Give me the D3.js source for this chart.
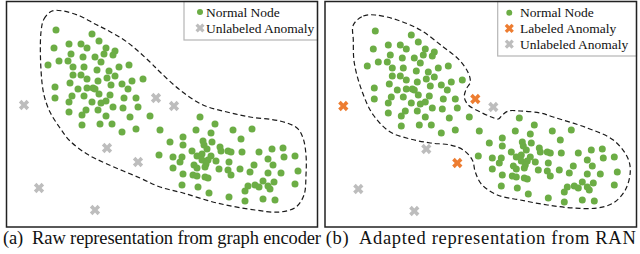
<!DOCTYPE html>
<html>
<head>
<meta charset="utf-8">
<script src="https://cdnjs.cloudflare.com/ajax/libs/d3/7.8.5/d3.min.js"></script>
<style>
body { margin: 0; background: #fff; }
svg { display: block; font-family: "Liberation Serif", "DejaVu Serif", serif; }
</style>
</head>
<body>
<svg id="chart" width="640" height="254"></svg>
<script>
// node embeddings (2-d), same for both panels
var normalNodes = [
	[56,30],[92,34],[99,41],[69,44],[81,44],[87,48],[54,48],[106,48],[115,51],[113,55],
	[104,54],[71,54],[83,57],[95,57],[59,61],[68,61],[48,65],[73,67],[84,67],[97,70],
	[109,71],[119,67],[129,65],[73,75],[81,75],[87,79],[98,81],[115,76],[107,78],[132,81],
	[143,79],[70,83],[111,85],[122,84],[55,87],[78,89],[87,88],[93,88],[95,89],[128,89],
	[99,94],[110,95],[84,96],[72,96],[55,98],[69,102],[92,102],[101,103],[106,101],[124,98],
	[136,98],[86,110],[98,110],[113,107],[123,108],[138,107],[69,112],[82,115],[106,116],[130,117],
	[150,116],[82,125],[100,124],[112,124],[122,132],[136,129],[101,62],
	[160,130],[200,117],[196,130],[211,133],[215,124],[233,130],[252,129],[183,137],[170,142],[183,145],
	[203,141],[204,145],[212,142],[220,147],[241,139],[159,155],[173,157],[182,157],[180,162],[192,151],
	[197,156],[202,154],[207,149],[211,156],[202,160],[208,160],[216,161],[221,151],[228,151],[231,152],
	[242,152],[259,152],[272,149],[283,148],[295,156],[284,157],[268,159],[173,168],[194,165],[197,168],
	[205,167],[206,164],[219,169],[229,162],[228,170],[240,169],[254,165],[250,172],[273,165],[268,173],
	[281,173],[298,171],[183,174],[193,175],[197,176],[205,177],[208,178],[231,175],[182,185],[198,187],
	[209,193],[229,197],[245,201],[248,186],[245,191],[255,185],[259,187],[263,181],[270,189],[274,182],
	[263,199],[275,200],[295,184],[268,186]
];
var anomalies = [[24,105],[156,98],[174,106],[107,148],[138,162],[39,188],[95,210]];
var labeledAfterRAN = [true, true, false, false, true, false, false];

var outlineRaw = [
	[41,32],[44,19],[52,11],[63,11],[80,16],[95,24],[107,30],[127,42],[150,62],[160,72],
	[180,90],[203,105],[227,112],[250,117],[280,121],[297,128],[303,138],[306,155],[306,175],[304,195],
	[296,207],[280,212],[255,210],[217,203],[183,193],[160,187],[140,178],[107,164],[87,154],[70,141],
	[60,128],[50,112],[44,95],[41,70]
];
var outlineAdapted = [
	[34,24],[44,15],[56,14],[78,19],[101,29],[124,46],[140,59],[149,72],[151,81],[147,88],
	[145,96],[149,104],[161,111],[172,116],[179,118],[183,114],[189,110],[201,110],[221,112],[234,116],
	[268,127],[294,139],[308,156],[311,170],[306,189],[294,202],[278,207],[254,207],[228,204],[201,199],
	[178,194],[162,183],[156,171],[153,159],[144,149],[131,144],[111,142],[91,138],[71,131],[54,114],
	[43,91],[35,62],[34,39]
];

var captions = ["(a)  Raw representation from graph encoder", "(b)  Adapted representation from RAN"];
var legendRaw = ["Normal Node", "Unlabeled Anomaly"];
var legendAdapted = ["Normal Node", "Labeled Anomaly", "Unlabeled Anomaly"];

var green = "#6cad45", orange = "#ed7d31", gray = "#bdbdbd";

var svg = d3.select("#chart");
var cross = d3.symbol().type(d3.symbolCross).size(66);
var crossSmall = d3.symbol().type(d3.symbolCross).size(52);

var panels = [
	{left: 6.5, top: 1.5, w: 311, h: 225.5, xd: [6.5, 317.5], yd: [1.5, 227],
		outline: outlineRaw, labeled: false, legend: legendRaw,
		lx: 177.5, lh: 38.5, mx: 193.5, tx: 199.5, ly0: 10.5, lstep: 16, caption: captions[0], cw: 318},
	{left: 325, top: 1.5, w: 311.5, h: 225.5, xd: [5.7, 317.2], yd: [0.5, 226],
		outline: outlineAdapted, labeled: true, legend: legendAdapted,
		lx: 172.7, lh: 54.5, mx: 184.3, tx: 195, ly0: 11.2, lstep: 15.7, caption: captions[1], cw: 310}
];

panels.forEach(function(p) {
	var x = d3.scaleLinear().domain(p.xd).range([0, p.w]);
	var y = d3.scaleLinear().domain(p.yd).range([0, p.h]);
	var g = svg.append("g").attr("transform", "translate(" + p.left + "," + p.top + ")");

	var line = d3.line()
		.x(function(d) { return x(d[0]); })
		.y(function(d) { return y(d[1]); })
		.curve(d3.curveCatmullRomClosed.alpha(0.5));

	g.append("path")
		.attr("d", line(p.outline))
		.attr("fill", "none")
		.attr("stroke", "#1a1a1a")
		.attr("stroke-width", 1.2)
		.attr("stroke-dasharray", "5,3");

	g.selectAll("circle.node")
		.data(normalNodes)
		.enter().append("circle")
		.attr("class", "node")
		.attr("cx", function(d) { return x(d[0]); })
		.attr("cy", function(d) { return y(d[1]); })
		.attr("r", 3.5)
		.attr("fill", green);

	g.selectAll("path.anom")
		.data(anomalies)
		.enter().append("path")
		.attr("class", "anom")
		.attr("d", cross)
		.attr("transform", function(d) { return "translate(" + x(d[0]) + "," + y(d[1]) + ") rotate(45)"; })
		.attr("fill", function(d, i) { return p.labeled && labeledAfterRAN[i] ? orange : gray; });

	// legend
	var lg = g.append("g");
	lg.append("rect")
		.attr("x", p.lx).attr("y", 0)
		.attr("width", p.w - p.lx).attr("height", p.lh)
		.attr("fill", "#fff").attr("stroke", "#b5b5b5").attr("stroke-width", 1.2);
	p.legend.forEach(function(label, i) {
		var cy = p.ly0 + i * p.lstep;
		if(i == 0)
			lg.append("circle").attr("cx", p.mx).attr("cy", cy).attr("r", 3).attr("fill", green);
		else
			lg.append("path").attr("d", crossSmall)
				.attr("transform", "translate(" + p.mx + "," + cy + ") rotate(45)")
				.attr("fill", label == "Labeled Anomaly" ? orange : gray);
		lg.append("text")
			.attr("x", p.tx).attr("y", cy + 4.6)
			.style("font-size", "13.5px")
			.attr("fill", "#111")
			.text(label);
	});
	// frame
	g.append("rect")
		.attr("width", p.w).attr("height", p.h)
		.attr("fill", "none").attr("stroke", "#222").attr("stroke-width", 1.5);

	svg.append("text")
		.attr("x", p.left + p.w / 2)
		.attr("y", 244)
		.attr("text-anchor", "middle")
		.attr("textLength", p.cw)
		.attr("lengthAdjust", "spacing")
		.style("font-size", "18.5px")
		.style("white-space", "pre")
		.attr("fill", "#111")
		.text(p.caption);
});
</script>
</body>
</html>
